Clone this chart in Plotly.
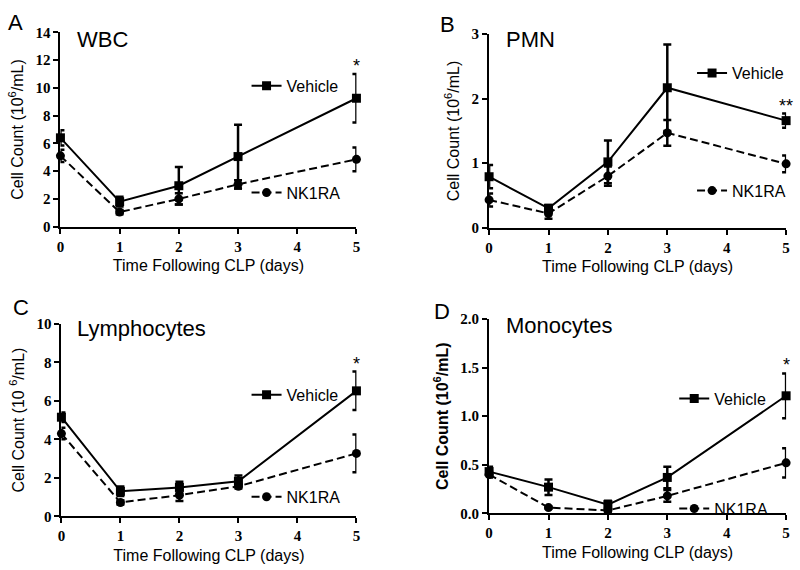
import plotly.graph_objects as go

days = [0, 1, 2, 3, 5]

wbc_veh = [6.4, 1.8, 2.95, 5.05, 9.25]
wbc_veh_err = [0.55, 0.35, 1.35, 2.3, 1.75]
wbc_nk = [5.1, 1.05, 2.0, 3.05, 4.85]
wbc_nk_err = [0.45, 0.15, 0.4, 0.3, 0.85]

pmn_veh = [0.79, 0.30, 1.02, 2.17, 1.66]
pmn_veh_err = [0.18, 0.05, 0.33, 0.67, 0.11]
pmn_nk = [0.43, 0.22, 0.80, 1.47, 0.99]
pmn_nk_err = [0.1, 0.08, 0.15, 0.2, 0.13]

lym_veh = [5.15, 1.3, 1.5, 1.82, 6.52]
lym_veh_err = [0.25, 0.25, 0.3, 0.3, 1.0]
lym_nk = [4.3, 0.72, 1.1, 1.56, 3.27]
lym_nk_err = [0.3, 0.1, 0.3, 0.12, 0.98]

mono_veh = [0.43, 0.27, 0.09, 0.37, 1.21]
mono_veh_err = [0.05, 0.08, 0.04, 0.11, 0.23]
mono_nk = [0.40, 0.06, 0.03, 0.18, 0.52]
mono_nk_err = [0.03, 0.01, 0.01, 0.06, 0.15]

W, H = 800, 570
SANS = "Liberation Sans, Arial, sans-serif"
SERIF = "Liberation Serif, Times New Roman, serif"

# pixel boxes are (x0, x1, ytop, ybottom); leg = (text start x, vehicle row y, nk1ra row y)
panels = [
    dict(letter="A", title="WBC", veh=wbc_veh, veh_err=wbc_veh_err, nk=wbc_nk, nk_err=wbc_nk_err,
         ymax=14, dtick=2, fmt="d", box=(57, 356, 25, 225), leg=(290, 80, 190), star="*",
         letter_pos=(12, 15), title_pos=(72, 32),
         ytitle="Cell Count (10<sup>6</sup>/mL)"),
    dict(letter="B", title="PMN", veh=pmn_veh, veh_err=pmn_veh_err, nk=pmn_nk, nk_err=pmn_nk_err,
         ymax=3, dtick=1, fmt="d", box=(490, 790, 27, 226), leg=(740, 67, 188), star="**",
         letter_pos=(448, 17), title_pos=(505, 32),
         ytitle="Cell Count (10<sup>6</sup>/mL)"),
    dict(letter="C", title="Lymphocytes", veh=lym_veh, veh_err=lym_veh_err, nk=lym_nk, nk_err=lym_nk_err,
         ymax=10, dtick=2, fmt="d", box=(58, 356, 325, 523), leg=(290, 398, 503), star="*",
         letter_pos=(17, 308), title_pos=(72, 330),
         ytitle="Cell Count (10 <sup>6</sup>/mL)"),
    dict(letter="D", title="Monocytes", veh=mono_veh, veh_err=mono_veh_err, nk=mono_nk, nk_err=mono_nk_err,
         ymax=2, dtick=0.5, fmt=".1f", box=(490, 790, 320, 520), leg=(722, 402, 515), star="*",
         letter_pos=(442, 312), title_pos=(505, 327),
         ytitle="<b>Cell Count (10<sup>6</sup>/mL)</b>"),
]

fig = go.Figure()
annotations = []
layout = dict(width=W, height=H, margin=dict(l=0, r=0, t=0, b=0),
              paper_bgcolor="white", plot_bgcolor="white", showlegend=True)

for i, p in enumerate(panels):
    n = "" if i == 0 else str(i + 1)
    x0, x1, yt, yb = p["box"]
    axis_common = dict(showgrid=False, zeroline=False, showline=True, linecolor="black", linewidth=2,
                       ticks="outside", ticklen=5, tickwidth=2, tickcolor="black",
                       tickfont=dict(family=SERIF, size=15, color="black", weight="bold"))
    layout["xaxis" + n] = dict(axis_common, domain=[x0 / W, x1 / W], anchor="y" + n,
                               range=[0, 5], tickvals=[0, 1, 2, 3, 4, 5],
                               title=dict(text="Time Following CLP (days)", standoff=6,
                                          font=dict(family=SANS, size=16, color="black")))
    layout["yaxis" + n] = dict(axis_common, domain=[1 - yb / H, 1 - yt / H], anchor="x" + n,
                               range=[0, p["ymax"]], dtick=p["dtick"], tickformat=p["fmt"],
                               title=dict(text=p["ytitle"], standoff=8,
                                          font=dict(family=SANS, size=16, color="black")))
    lg1 = "legend" if i == 0 else "legend" + str(2 * i + 1)
    lg2 = "legend" + str(2 * i + 2)
    fig.add_trace(go.Scatter(x=days, y=p["veh"], name="Vehicle", mode="lines+markers",
                             xaxis="x" + n, yaxis="y" + n, legend=lg1, cliponaxis=False,
                             line=dict(color="black", width=2),
                             marker=dict(symbol="square", size=9, color="black"),
                             error_y=dict(type="data", array=p["veh_err"], color="black",
                                          thickness=2.5, width=4)))
    fig.add_trace(go.Scatter(x=days, y=p["nk"], name="NK1RA", mode="lines+markers",
                             xaxis="x" + n, yaxis="y" + n, legend=lg2, cliponaxis=False,
                             line=dict(color="black", width=2, dash="8px,4px"),
                             marker=dict(symbol="circle", size=9, color="black"),
                             error_y=dict(type="data", array=p["nk_err"], color="black",
                                          thickness=2.5, width=4)))
    tx, vy, ny = p["leg"]
    for lg, cy in ((lg1, vy), (lg2, ny)):
        layout[lg] = dict(x=(tx - 45) / W, y=1 - cy / H, xanchor="left", yanchor="middle",
                          bgcolor="rgba(0,0,0,0)", font=dict(family=SANS, size=16, color="black"))
    # significance star above last vehicle error bar
    annotations.append(dict(x=days[-1], y=p["veh"][-1] + p["veh_err"][-1], xref="x" + n, yref="y" + n,
                            text=p["star"], showarrow=False, yanchor="bottom", yshift=-4,
                            font=dict(family=SANS, size=18, color="black")))
    lx, ly = p["letter_pos"]
    annotations.append(dict(x=lx / W, y=1 - ly / H, xref="paper", yref="paper", text=p["letter"],
                            showarrow=False, xanchor="center", yanchor="middle",
                            font=dict(family=SANS, size=22, color="black")))
    tx2, ty2 = p["title_pos"]
    annotations.append(dict(x=tx2 / W, y=1 - ty2 / H, xref="paper", yref="paper", text=p["title"],
                            showarrow=False, xanchor="left", yanchor="middle",
                            font=dict(family=SANS, size=22, color="black")))

layout["annotations"] = annotations
fig.update_layout(**layout)
fig.write_html("out.html", config={"displayModeBar": False},
               post_script="document.body.style.margin='0';document.body.style.overflow='hidden';")
